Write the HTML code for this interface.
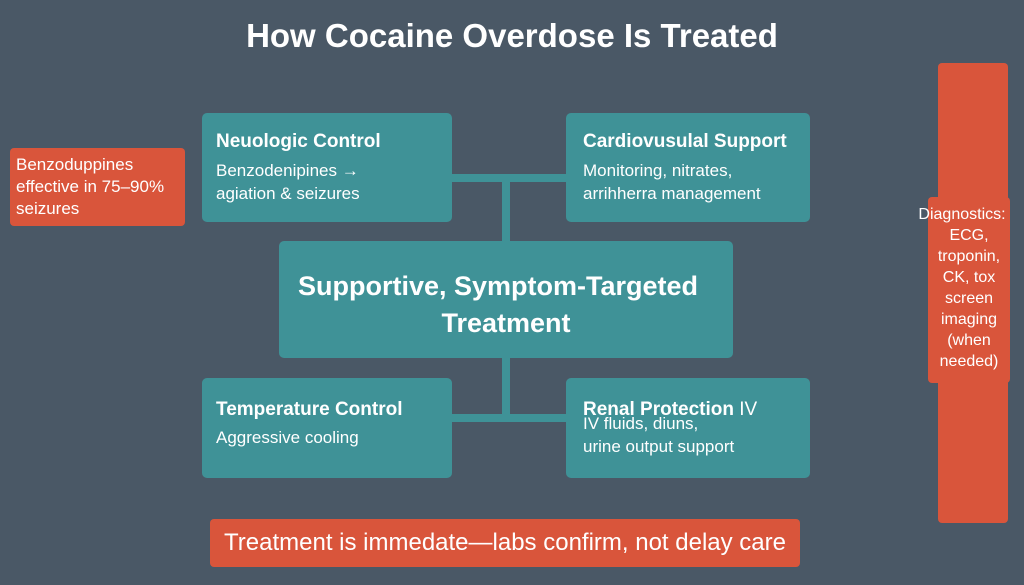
<!DOCTYPE html>
<html><head><style>
body{margin:0;width:1024px;height:585px;background:#4a5866;position:relative;overflow:hidden;font-family:"Liberation Sans",sans-serif;color:#fff}
.a{position:absolute;box-sizing:border-box}
.t{background:#3f9297;border-radius:5px}
.o{background:#d9553b;border-radius:4px}
.l{background:#3f9297}
h1{position:absolute;left:0;width:1024px;top:17px;margin:0;text-align:center;font-size:33px;font-weight:bold}
.b{font-weight:bold;font-size:19px}
.s{font-size:17px;line-height:23px}
</style></head><body>
<h1>How Cocaine Overdose Is Treated</h1>
<div class="a l" style="left:452px;top:174px;width:114px;height:8px"></div>
<div class="a l" style="left:502px;top:174px;width:8px;height:70px"></div>
<div class="a l" style="left:502px;top:355px;width:8px;height:66px"></div>
<div class="a l" style="left:452px;top:414px;width:114px;height:8px"></div>
<div class="a t" style="left:202px;top:113px;width:250px;height:109px;padding:18px 14px">
<div class="b">Neuologic Control</div><div class="s" style="margin-top:6px">Benzodenipines →<br>agiation &amp; seizures</div></div>
<div class="a t" style="left:566px;top:113px;width:244px;height:109px;padding:18px 17px">
<div class="b">Cardiovusulal Support</div><div class="s" style="margin-top:6px">Monitoring, nitrates,<br>arrihherra management</div></div>
<div class="a t" style="left:279px;top:241px;width:454px;height:117px;padding:27px 0 0 0;text-align:center;font-size:27px;font-weight:bold;line-height:37px">
<span style="margin-left:-16px">Supportive, Symptom-Targeted</span><br>Treatment</div>
<div class="a t" style="left:202px;top:378px;width:250px;height:100px;padding:21px 14px">
<div class="b">Temperature Control</div><div class="s" style="margin-top:5px">Aggressive cooling</div></div>
<div class="a t" style="left:566px;top:378px;width:244px;height:100px;padding:21px 17px">
<div class="b">Renal Protection <span style="font-weight:normal">IV</span></div><div class="s" style="margin-top:-9px">IV fluids, diuns,<br>urine output support</div></div>
<div class="a o" style="left:10px;top:148px;width:175px;height:78px;padding:6px 6px;font-size:17px;line-height:22px">Benzoduppines<br>effective in 75–90%<br>seizures</div>
<div class="a o" style="left:938px;top:63px;width:70px;height:460px"></div>
<div class="a o" style="left:928px;top:197px;width:82px;height:186px;padding-top:7px;text-align:center;font-size:16px;line-height:21px"><span style="margin-left:-14px">Diagnostics:</span><br>ECG,<br>troponin,<br>CK, tox<br>screen<br>imaging<br>(when<br>needed)</div>
<div class="a o" style="left:210px;top:519px;width:590px;height:48px;text-align:center;font-size:24px;line-height:48px">Treatment is immedate—labs confirm, not delay care</div>
</body></html>
